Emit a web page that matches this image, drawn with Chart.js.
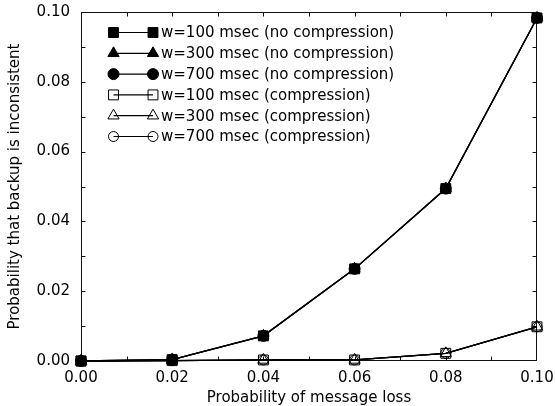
<!DOCTYPE html>
<html>
<head>
<meta charset="utf-8">
<script src="https://cdn.jsdelivr.net/npm/chart.js@4.4.1/dist/chart.umd.min.js"></script>
<style>
  html, body { margin: 0; padding: 0; background: #fff; }
  #wrap { width: 555px; height: 406px; position: relative; }
</style>
</head>
<body>
<div id="wrap"><canvas id="c" width="555" height="406"></canvas></div>
<script>
// ---- data ----
const lossProb = [0, 0.02, 0.04, 0.06, 0.08, 0.10];
const noCompW100 = [0, 0.0004, 0.0072, 0.0264, 0.0494, 0.0983];
const noCompW300 = [0, 0.0004, 0.0072, 0.0264, 0.0494, 0.0983];
const noCompW700 = [0, 0.0004, 0.0072, 0.0264, 0.0494, 0.0983];
const compW100 = [0, 0.0001, 0.0003, 0.0003, 0.0022, 0.0098];
const compW300 = [0, 0.0001, 0.0003, 0.0003, 0.0022, 0.0098];
const compW700 = [0, 0.0001, 0.0003, 0.0003, 0.0022, 0.0098];
const seriesLabels = [
  'w=100 msec (no compression)',
  'w=300 msec (no compression)',
  'w=700 msec (no compression)',
  'w=100 msec (compression)',
  'w=300 msec (compression)',
  'w=700 msec (compression)'
];
const xTitle = 'Probability of message loss';
const yTitle = 'Probability that backup is inconsistent';

const FONT = 'DejaVu Sans';
const OPEN = 'rgba(0,0,0,0)';
const pts = arr => arr.map((v, i) => ({ x: lossProb[i], y: v }));

function ds(label, data, style, filled, radius) {
  return {
    label, data: pts(data),
    borderColor: '#000', borderWidth: 1.3,
    pointStyle: style, pointRadius: radius, pointHoverRadius: radius,
    pointBackgroundColor: filled ? '#000' : OPEN,
    pointBorderColor: '#000', pointBorderWidth: 1,
    fill: false, tension: 0, clip: false
  };
}

const datasets = [
  ds(seriesLabels[5], compW700, 'circle', false, 5),
  ds(seriesLabels[4], compW300, 'triangle', false, 6.5),
  ds(seriesLabels[3], compW100, 'rect', false, 7),
  ds(seriesLabels[2], noCompW700, 'circle', true, 5.5),
  ds(seriesLabels[1], noCompW300, 'triangle', true, 6.5),
  ds(seriesLabels[0], noCompW100, 'rect', true, 7)
];

function marker(ctx, style, x, y, r, fillColor) {
  ctx.save();
  ctx.beginPath();
  if (style === 'rect') {
    const s = Math.SQRT1_2 * r;
    ctx.rect(x - s, y - s, 2 * s, 2 * s);
  } else if (style === 'triangle') {
    let a = 0;
    ctx.moveTo(x + Math.sin(a) * r, y - Math.cos(a) * r);
    a += 2 * Math.PI / 3;
    ctx.lineTo(x + Math.sin(a) * r, y - Math.cos(a) * r);
    a += 2 * Math.PI / 3;
    ctx.lineTo(x + Math.sin(a) * r, y - Math.cos(a) * r);
    ctx.closePath();
  } else {
    ctx.arc(x, y, r, 0, Math.PI * 2);
  }
  ctx.fillStyle = fillColor;
  ctx.fill();
  ctx.lineWidth = 1;
  ctx.strokeStyle = '#000';
  ctx.stroke();
  ctx.restore();
}

const framePlugin = {
  id: 'frame',
  beforeDatasetsDraw(chart) {
    const { ctx, chartArea: a, scales } = chart;
    ctx.save();
    ctx.strokeStyle = '#111';
    ctx.lineWidth = 1;
    const L = Math.round(a.left) + 0.5, R = Math.round(a.right) - 0.5;
    const T = Math.round(a.top) + 0.5, B = Math.round(a.bottom) - 0.5;
    ctx.strokeRect(L, T, R - L, B - T);
    const tl = 4;
    ctx.beginPath();
    for (let i = 1; i < 10; i++) {
      const v = i * 0.01;
      const px = Math.round(scales.x.getPixelForValue(v)) + 0.5;
      ctx.moveTo(px, B); ctx.lineTo(px, B - tl);
      ctx.moveTo(px, T); ctx.lineTo(px, T + tl);
      const py = Math.round(scales.y.getPixelForValue(v)) + 0.5;
      ctx.moveTo(L, py); ctx.lineTo(L + tl, py);
      ctx.moveTo(R, py); ctx.lineTo(R - tl, py);
    }
    ctx.stroke();
    ctx.restore();
  }
};

const legendPlugin = {
  id: 'customLegend',
  afterDraw(chart) {
    const { ctx } = chart;
    const order = [5, 4, 3, 2, 1, 0]; // dataset indices in legend order
    const x1 = 113.5, x2 = 153, xt = 161, y0 = 32.5, step = 20.8;
    ctx.save();
    order.forEach((di, row) => {
      const d = chart.data.datasets[di];
      const y = y0 + row * step;
      ctx.beginPath();
      ctx.strokeStyle = '#000';
      ctx.lineWidth = 1.2;
      ctx.moveTo(x1, y); ctx.lineTo(x2, y);
      ctx.stroke();
      marker(ctx, d.pointStyle, x1, y, d.pointRadius, d.pointBackgroundColor);
      marker(ctx, d.pointStyle, x2, y, d.pointRadius, d.pointBackgroundColor);
      ctx.fillStyle = '#000';
      ctx.font = '15px "' + FONT + '"';
      ctx.textAlign = 'left';
      ctx.textBaseline = 'middle';
      ctx.fillText(d.label, xt, y + 1);
    });
    ctx.restore();
  }
};

new Chart(document.getElementById('c'), {
  type: 'line',
  data: { datasets },
  options: {
    responsive: false,
    animation: false,
    devicePixelRatio: 1,
    layout: { padding: { top: 12, right: 18, left: 0, bottom: 0 } },
    plugins: { legend: { display: false }, tooltip: { enabled: false } },
    scales: {
      x: {
        type: 'linear', min: 0, max: 0.1,
        grid: { display: false, drawTicks: false },
        border: { display: false },
        ticks: {
          stepSize: 0.02, padding: 8, color: '#000',
          font: { family: FONT, size: 15 },
          maxRotation: 0,
          callback: v => Number(v).toFixed(2)
        },
        title: {
          display: true, text: xTitle, color: '#000',
          font: { family: FONT, size: 15, lineHeight: 1 },
          padding: { top: 0, bottom: 0 }
        },
        afterFit: s => { s.height = 45; s.paddingLeft = 0; s.paddingRight = 0; }
      },
      y: {
        type: 'linear', min: 0, max: 0.1,
        grid: { display: false, drawTicks: false },
        border: { display: false },
        ticks: {
          stepSize: 0.02, padding: 11, color: '#000',
          font: { family: FONT, size: 15 },
          callback: v => Number(v).toFixed(2)
        },
        title: {
          display: true, text: yTitle, color: '#000',
          font: { family: FONT, size: 15, lineHeight: 1.2 },
          padding: { top: 6, bottom: 0 }
        },
        afterFit: s => { s.width = 81; s.paddingTop = 0; s.paddingBottom = 0; }
      }
    }
  },
  plugins: [framePlugin, legendPlugin]
});
</script>
</body>
</html>
